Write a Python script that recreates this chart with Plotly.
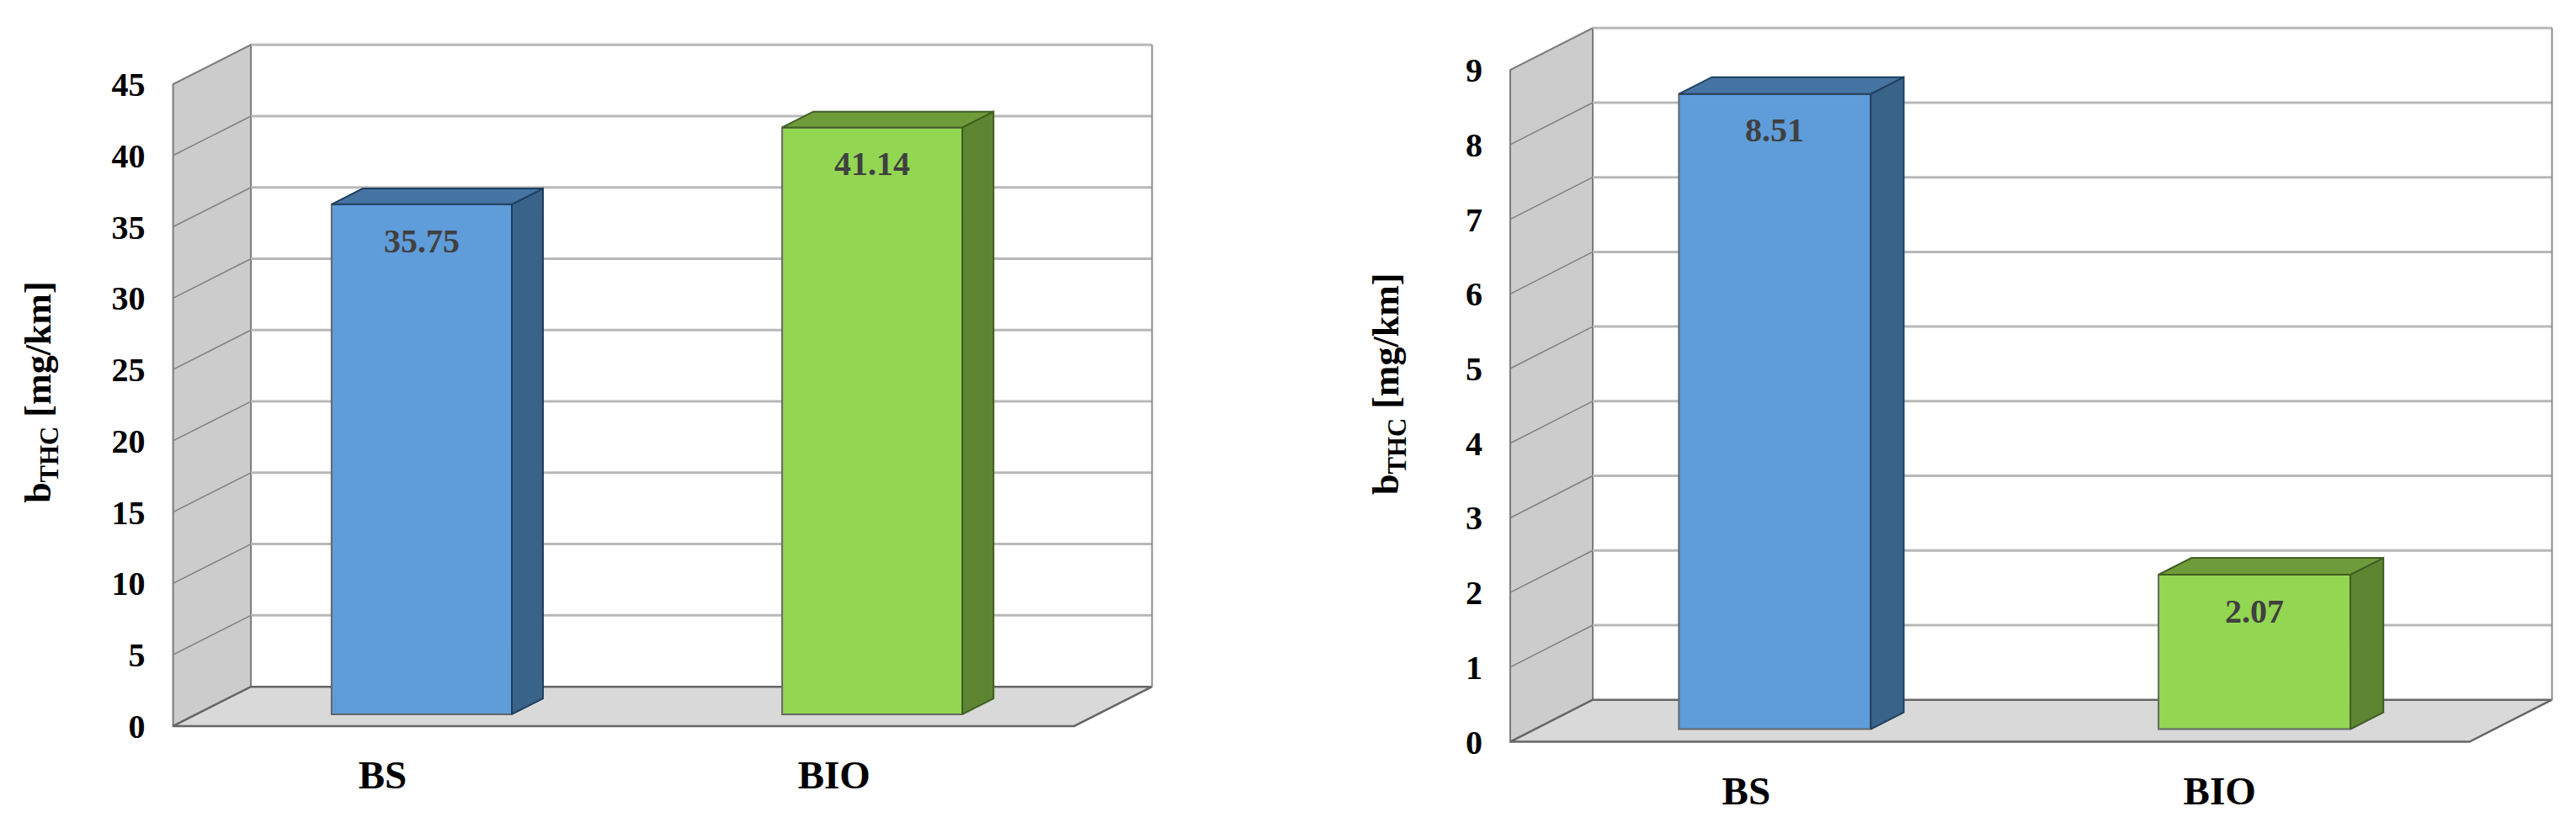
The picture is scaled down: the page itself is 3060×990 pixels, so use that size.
import plotly.graph_objects as go

W, H = 3060, 990
FONT = "Liberation Serif"

categories = ["BS", "BIO"]
values_left = [35.75, 41.14]
values_right = [8.51, 2.07]
labels_left = ["35.75", "41.14"]
labels_right = ["8.51", "2.07"]
ticks_left = [0, 5, 10, 15, 20, 25, 30, 35, 40, 45]
ticks_right = [0, 1, 2, 3, 4, 5, 6, 7, 8, 9]

FRONT = ["#5F9CDA", "#93D652"]
SIDE = ["#3A6389", "#5E8532"]
TOP = ["#4674A2", "#6F9C3A"]
EDGE = ["#1F3F60", "#3F5F22"]


def polygon(points):
    """Path SVG en coordenadas de datos"""
    return "M " + " L ".join(f"{x},{y}" for x, y in points) + " Z"


def dibujar_panel(fig, n, values, labels, ticks, x0, x1_front, wall_dx, wall_dy,
                  y0, unit_px, label_pos, label_gap, title_x, title_y):
    xname, yname = ("x", "y") if n == 1 else (f"x{n}", f"y{n}")
    top = ticks[-1]
    cat_px = (x1_front - x0) / len(categories)
    dx = wall_dx / cat_px
    dy = wall_dy / unit_px
    pad = 6

    # pared izquierda y suelo
    fig.add_shape(type="path", xref=xname, yref=yname, layer="below",
                  path=polygon([(0, 0), (dx, dy), (dx, top + dy), (0, top)]),
                  fillcolor="#CCCCCC", line=dict(color="#7A7A7A", width=2))
    fig.add_shape(type="path", xref=xname, yref=yname, layer="below",
                  path=polygon([(0, 0), (2, 0), (2 + dx, dy), (dx, dy)]),
                  fillcolor="#D9D9D9", line=dict(color="#666666", width=2.5))

    # rejilla
    for t in ticks[1:]:
        fig.add_shape(type="line", xref=xname, yref=yname, layer="below",
                      x0=dx, x1=2 + dx, y0=t + dy, y1=t + dy,
                      line=dict(color="#B8B8B8", width=3))
        fig.add_shape(type="line", xref=xname, yref=yname, layer="below",
                      x0=0, x1=dx, y0=t, y1=t + dy,
                      line=dict(color="#808080", width=1.5))
    fig.add_shape(type="line", xref=xname, yref=yname, layer="below",
                  x0=2 + dx, x1=2 + dx, y0=dy, y1=top + dy,
                  line=dict(color="#8C8C8C", width=2))

    # barras: cara frontal
    shift = 0.3
    depth = 0.4
    width = 0.4
    xs = [i + 0.5 + shift * dx for i in range(len(categories))]
    fig.add_trace(go.Bar(x=xs, y=values, base=[shift * dy] * len(values), width=width,
                         marker=dict(color=FRONT, line=dict(color="#666666", width=2)),
                         xaxis=xname, yaxis=yname, showlegend=False))

    # caras lateral y superior
    for i, v in enumerate(values):
        left = xs[i] - width / 2
        right = xs[i] + width / 2
        b = shift * dy
        t = b + v
        ox, oy = depth * dx, depth * dy
        fig.add_trace(go.Scatter(
            x=[right, right + ox, right + ox, right, right],
            y=[b, b + oy, t + oy, t, b],
            mode="lines", fill="toself", fillcolor=SIDE[i],
            line=dict(color=EDGE[i], width=2),
            xaxis=xname, yaxis=yname, showlegend=False, hoverinfo="skip"))
        fig.add_trace(go.Scatter(
            x=[left, left + ox, right + ox, right, left],
            y=[t, t + oy, t + oy, t, t],
            mode="lines", fill="toself", fillcolor=TOP[i],
            line=dict(color=EDGE[i], width=2),
            xaxis=xname, yaxis=yname, showlegend=False, hoverinfo="skip"))

        # etiqueta de valor
        fig.add_annotation(xref=xname, yref=yname, x=xs[i], y=t - 44 / unit_px,
                           text=labels[i], showarrow=False,
                           xanchor="center", yanchor="middle",
                           font=dict(family=FONT, size=40, color="#404040", weight="bold"))

    # ejes
    x_left = x0 - pad
    x_right = x1_front + wall_dx + pad
    y_bottom = y0 + pad
    y_top = y0 - (top + dy) * unit_px - pad
    ax_x = dict(domain=[x_left / W, x_right / W],
                range=[-pad / cat_px, 2 + dx + pad / cat_px],
                anchor=yname, showgrid=False, zeroline=False, showline=False,
                tickmode="array", tickvals=label_pos, ticktext=categories,
                tickfont=dict(family=FONT, size=47, color="#000000", weight="bold"),
                ticklabelstandoff=label_gap, ticks="")
    ax_y = dict(domain=[1 - y_bottom / H, 1 - y_top / H],
                range=[-pad / unit_px, top + dy + pad / unit_px],
                anchor=xname, showgrid=False, zeroline=False, showline=False,
                tickmode="array", tickvals=ticks, ticktext=[str(t) for t in ticks],
                tickfont=dict(family=FONT, size=40, color="#000000", weight="bold"),
                ticklabelstandoff=26, ticks="")
    suffix = "" if n == 1 else str(n)
    fig.update_layout({"xaxis" + suffix: ax_x, "yaxis" + suffix: ax_y})

    fig.add_annotation(xref="paper", yref="paper", x=title_x / W, y=1 - title_y / H,
                       xanchor="center", yanchor="middle",
                       text="b<sub>THC</sub> [mg/km]", textangle=-90, showarrow=False,
                       font=dict(family=FONT, size=44, color="#000000", weight="bold"))


fig = go.Figure()
dibujar_panel(fig, 1, values_left, labels_left, ticks_left,
              x0=205.6, x1_front=1276, wall_dx=92.5, wall_dy=47.6,
              y0=878, unit_px=17.25, label_pos=[0.465, 1.467], label_gap=20,
              title_x=49, title_y=474)
dibujar_panel(fig, 2, values_right, labels_right, ticks_right,
              x0=1794, x1_front=2933.5, wall_dx=98, wall_dy=50.8,
              y0=897, unit_px=90.26, label_pos=[0.492, 1.479], label_gap=21,
              title_x=1649, title_y=464)

fig.update_layout(width=W, height=H, margin=dict(l=0, r=0, t=0, b=0),
                  plot_bgcolor="white", paper_bgcolor="white", showlegend=False)
# sin margen del body para que la figura quede en 0,0
fig.write_html("out.html", post_script="document.body.style.margin = '0';",
               config={"displayModeBar": False})
